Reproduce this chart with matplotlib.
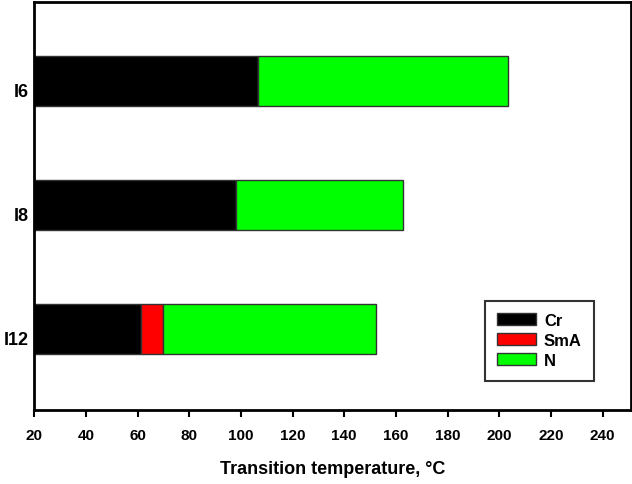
import numpy as np
import matplotlib.pyplot as plt
import matplotlib.transforms as mtransforms

plt.rcParams['font.family'] = ['Liberation Sans', 'DejaVu Sans']
plt.rcParams['font.weight'] = 'bold'

compounds = ['I6', 'I8', 'I12']
start = 20
cr_end = [106.7, 98.1, 61.4]
sma_end = [106.7, 98.1, 69.8]
n_end = [203.4, 162.6, 152.3]

phases = ['Cr', 'SmA', 'N']
colors = ['#000000', '#ff0000', '#00ff00']

fig = plt.figure(figsize=(6.32, 4.85), dpi=100)
ax = fig.add_axes([0.0543, 0.1532, 0.944, 0.8408])

y = np.arange(len(compounds))
cr_w = np.array(cr_end) - start
sma_w = np.array(sma_end) - np.array(cr_end)
n_w = np.array(n_end) - np.array(sma_end)

h = 0.4
ax.barh(y, cr_w, left=start, height=h, color=colors[0], edgecolor='#333333', linewidth=1, label=phases[0])
ax.barh(y, sma_w, left=cr_end, height=h, color=colors[1], edgecolor='#333333', linewidth=1, label=phases[1])
ax.barh(y, n_w, left=sma_end, height=h, color=colors[2], edgecolor='#333333', linewidth=1, label=phases[2])

ax.set_xlim(20, 251)
ax.set_ylim(2.65, -0.64)
ax.set_xticks(np.arange(20, 241, 20))
ax.set_yticks(y)
ax.set_yticklabels(compounds, fontsize=13, fontweight='bold')
ax.tick_params(axis='y', length=0, pad=4)
ax.tick_params(axis='x', length=5, width=1.5, labelsize=11, pad=8)
for lab in ax.get_xticklabels():
    lab.set_fontweight('bold')
# labels sit a little below the bar centres in the original
shift = mtransforms.ScaledTranslation(0, -8 / 100, fig.dpi_scale_trans)
for lab in ax.get_yticklabels():
    lab.set_transform(lab.get_transform() + shift)
for s in ax.spines.values():
    s.set_linewidth(2)

ax.set_xlabel('Transition temperature, °C', fontsize=13, fontweight='bold', labelpad=13)

leg = fig.legend(loc='upper left', bbox_to_anchor=(0.767, 0.378), fancybox=False,
                 edgecolor='#333333', framealpha=1, fontsize=12, handlelength=2.3,
                 handleheight=0.72, borderpad=0.75, labelspacing=0.3, handletextpad=0.5,
                 borderaxespad=0)
leg.get_frame().set_linewidth(1.5)
for t in leg.get_texts():
    t.set_fontweight('bold')

fig.savefig('out.png', dpi=100)
